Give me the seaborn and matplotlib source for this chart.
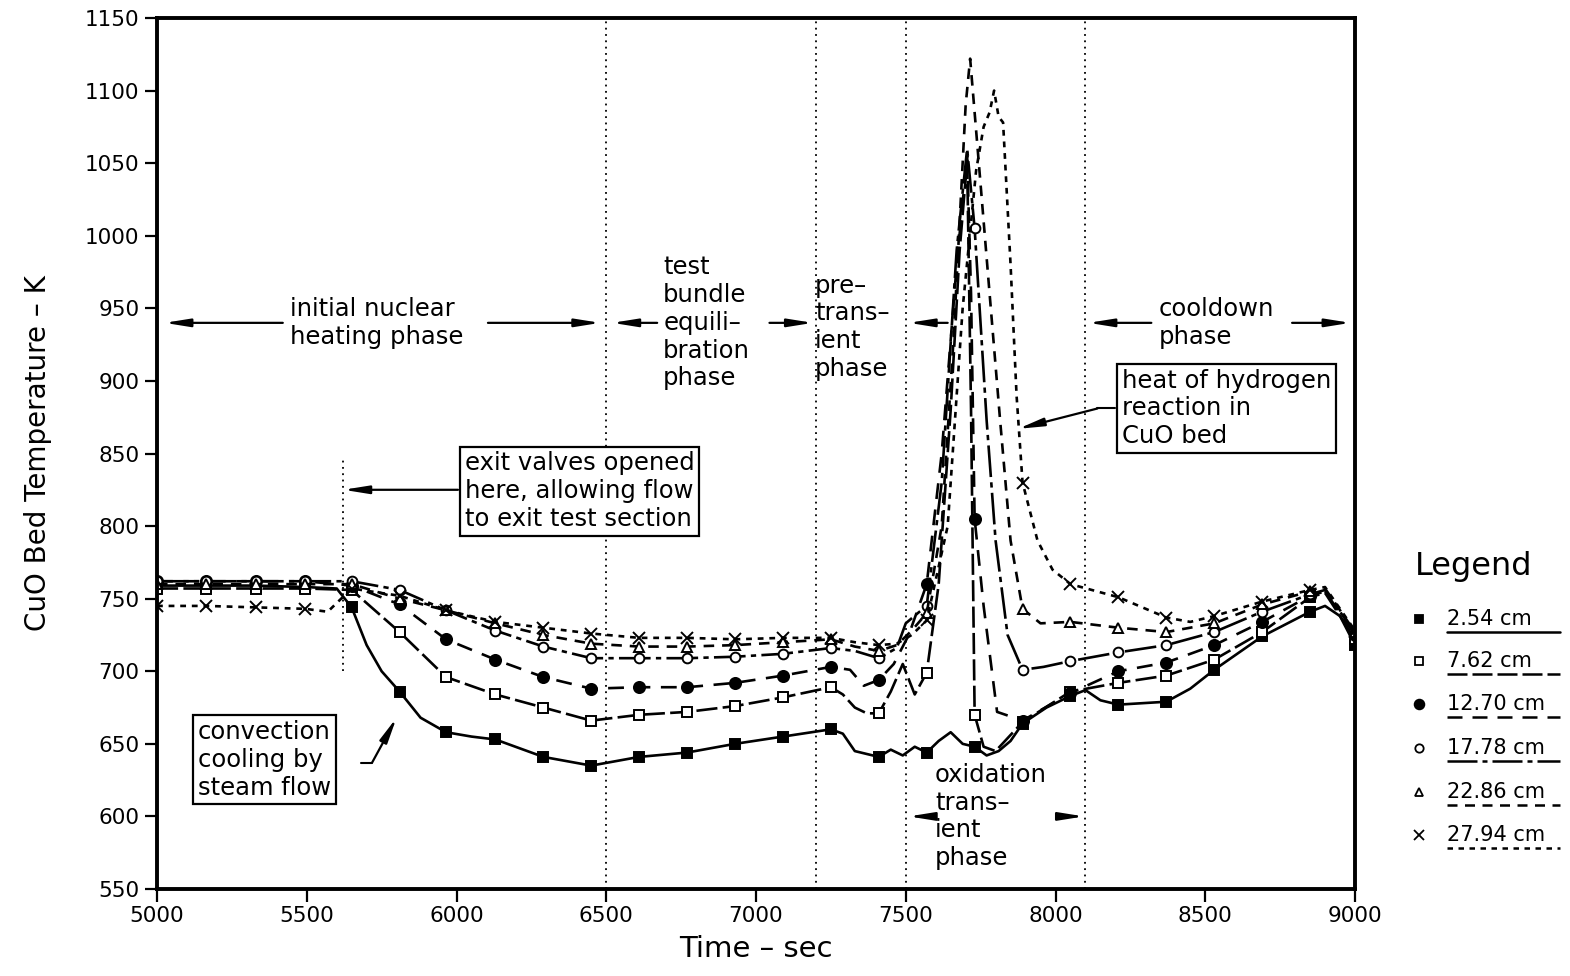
import numpy as np
import matplotlib
matplotlib.use("Agg")
import matplotlib.pyplot as plt
from matplotlib.lines import Line2D
import seaborn as sns

# ---------------- data ----------------
MARK_T = [5000, 5165, 5330, 5495, 5650, 5810, 5965, 6130, 6290, 6450, 6610, 6770,
          6930, 7090, 7250, 7410, 7570, 7730, 7890, 8050, 8210, 8370, 8530, 8690,
          8850, 9000]

t_254 = [5000, 5165, 5330, 5495, 5600, 5650, 5700, 5750, 5810, 5880, 5965, 6050, 6130,
         6210, 6290, 6450, 6610, 6770, 6930, 7090, 7250, 7290, 7330, 7370, 7410, 7450,
         7490, 7530, 7570, 7610, 7650, 7690, 7730, 7770, 7810, 7850, 7890, 7970, 8050,
         8100, 8150, 8210, 8370, 8450, 8530, 8690, 8850, 8900, 8950, 9000]
T_254 = [759, 759, 759, 758, 757, 744, 718, 700, 686, 668, 658, 655, 653,
         647, 641, 635, 641, 644, 650, 655, 660, 657, 645, 643, 641, 646,
         642, 648, 644, 652, 658, 650, 648, 642, 645, 652, 664, 675, 683,
         687, 680, 677, 679, 688, 701, 724, 741, 745, 738, 718]

t_762 = [5000, 5165, 5330, 5495, 5650, 5810, 5965, 6130, 6290, 6450, 6610, 6770, 6930,
         7090, 7250, 7290, 7330, 7370, 7410, 7450, 7490, 7530, 7570, 7610, 7650, 7680,
         7705, 7718, 7730, 7760, 7800, 7890, 8050, 8210, 8370, 8530, 8690, 8850, 8900,
         9000]
T_762 = [757, 757, 757, 757, 756, 727, 696, 684, 675, 666, 670, 672, 676,
         682, 689, 684, 675, 671, 671, 686, 705, 684, 699, 760, 880, 990,
         1052, 880, 670, 648, 645, 665, 686, 692, 697, 708, 727, 751, 754,
         722]

t_1270 = [5000, 5165, 5330, 5495, 5650, 5810, 5965, 6130, 6290, 6450, 6610, 6770, 6930,
          7090, 7250, 7314, 7360, 7410, 7460, 7510, 7570, 7620, 7670, 7705, 7718, 7730,
          7760, 7805, 7890, 8050, 8210, 8370, 8530, 8690, 8850, 8900, 9000]
T_1270 = [762, 762, 762, 762, 759, 746, 722, 708, 696, 688, 689, 689, 692,
          697, 703, 701, 690, 694, 705, 725, 760, 850, 980, 1055, 960, 805,
          745, 672, 666, 685, 700, 706, 718, 734, 752, 755, 725]

t_1778 = [5000, 5165, 5330, 5495, 5650, 5810, 5965, 6130, 6290, 6450, 6610, 6770, 6930,
          7090, 7250, 7330, 7410, 7470, 7500, 7540, 7570, 7620, 7670, 7705, 7730, 7770,
          7800, 7840, 7890, 7960, 8050, 8210, 8370, 8530, 8690, 8850, 8900, 9000]
T_1778 = [762, 762, 762, 762, 762, 756, 742, 728, 717, 709, 709, 709, 710,
          712, 716, 714, 709, 716, 733, 740, 745, 830, 990, 1060, 1005, 873,
          790, 725, 701, 703, 707, 713, 718, 727, 741, 753, 756, 726]

t_2286 = [5000, 5165, 5330, 5495, 5650, 5810, 5965, 6130, 6290, 6450, 6610, 6770, 6930,
          7090, 7250, 7330, 7410, 7470, 7520, 7570, 7620, 7660, 7700, 7715, 7740, 7780,
          7815, 7850, 7890, 7950, 8050, 8210, 8370, 8530, 8690, 8850, 8900, 9000]
T_2286 = [760, 760, 760, 760, 760, 750, 742, 733, 725, 719, 717, 717, 718,
          720, 722, 717, 714, 718, 728, 740, 800, 930, 1090, 1122, 1060, 960,
          873, 790, 743, 733, 734, 730, 727, 733, 746, 755, 757, 727]

t_2794 = [5000, 5165, 5330, 5495, 5570, 5650, 5810, 5965, 6130, 6290, 6450, 6610, 6770,
          6930, 7090, 7250, 7330, 7410, 7470, 7520, 7570, 7640, 7690, 7735, 7760, 7780,
          7795, 7810, 7825, 7850, 7870, 7890, 7940, 7990, 8050, 8210, 8370, 8450, 8530,
          8690, 8850, 8900, 9000]
T_2794 = [745, 745, 744, 743, 741, 757, 752, 742, 734, 730, 726, 723, 723,
          722, 723, 723, 720, 718, 719, 725, 735, 800, 950, 1045, 1075, 1085,
          1100, 1082, 1078, 980, 890, 830, 790, 770, 760, 751, 737, 734, 738,
          748, 756, 758, 728]

labels = ["2.54 cm", "7.62 cm", "12.70 cm", "17.78 cm", "22.86 cm", "27.94 cm"]
times = [t_254, t_762, t_1270, t_1778, t_2286, t_2794]
temps = [T_254, T_762, T_1270, T_1778, T_2286, T_2794]

x_ticks = [5000, 5500, 6000, 6500, 7000, 7500, 8000, 8500, 9000]
y_ticks = [550, 600, 650, 700, 750, 800, 850, 900, 950, 1000, 1050, 1100, 1150]

# ---------------- styles ----------------
markers = ["s", "s", "o", "o", "^", "x"]
mfcs = ["black", "white", "black", "white", "white", "black"]
msizes = [7, 7, 8, 7, 7, 8]
styles = ["-", (0, (8, 2)), (0, (6, 4)), (0, (12, 2, 2, 2)), (0, (4, 3)), (0, (2.2, 2.2))]

sns.set_theme(style="ticks")
plt.rcParams["font.family"] = ["DejaVu Sans"]
for k in ["text.color", "axes.labelcolor", "xtick.color", "ytick.color", "axes.edgecolor"]:
    plt.rcParams[k] = "black"

fig = plt.figure(figsize=(15.7, 9.76), dpi=100)
ax = fig.add_axes([157 / 1570, 1 - 889 / 976, (1355 - 157) / 1570, (889 - 18) / 976])

for t, T, lab, m, fc, ms, ls in zip(times, temps, labels, markers, mfcs, msizes, styles):
    idx = [i for i, v in enumerate(t) if v in MARK_T]
    sns.lineplot(x=t, y=T, ax=ax, color="black", linewidth=1.9, linestyle=ls,
                 marker=m, markevery=idx, markersize=ms, markerfacecolor=fc,
                 markeredgecolor="black", markeredgewidth=1.4,
                 sort=False, estimator=None, errorbar=None, legend=False)

ax.set_xlim(5000, 9000)
ax.set_ylim(550, 1150)
ax.set_xticks(x_ticks)
ax.set_yticks(y_ticks)
ax.tick_params(direction="out", length=9, width=1.6, labelsize=15.5, colors="black")
for sp in ax.spines.values():
    sp.set_linewidth(2.8)
    sp.set_color("black")
ax.set_xlabel("Time – sec", fontsize=21, labelpad=6)
ax.set_ylabel("CuO Bed Temperature – K", fontsize=20, labelpad=24)

# phase boundaries
dot = (0, (1, 2.5))
for xv in [6500, 7200, 7500, 8100]:
    ax.axvline(xv, color="black", lw=1.3, ls=dot)
ax.plot([5620, 5620], [700, 847], color="black", lw=1.3, ls=dot)

ARW = dict(arrowstyle="-|>,head_length=1.0,head_width=0.16", color="black", lw=1.6,
           shrinkA=0, shrinkB=0, mutation_scale=15)


def arrow(tail, head):
    ax.annotate("", xy=head, xytext=tail, arrowprops=ARW, annotation_clip=False)


FS = 17.5
LS = 1.2
# phase labels at 940 K
ax.text(5445, 940, "initial nuclear\nheating phase", fontsize=FS, ha="left", va="center",
        linespacing=LS)
arrow((5420, 940), (5025, 940))
arrow((6105, 940), (6480, 940))
ax.text(6690, 940, "test\nbundle\nequili–\nbration\nphase", fontsize=FS, ha="left",
        va="center", linespacing=LS)
arrow((6670, 940), (6520, 940))
arrow((7045, 940), (7190, 940))
ax.text(7197, 937, "pre–\ntrans–\nient\nphase", fontsize=FS, ha="left", va="center",
        linespacing=LS)
arrow((7640, 940), (7510, 940))
ax.text(8345, 940, "cooldown\nphase", fontsize=FS, ha="left", va="center",
        linespacing=LS)
arrow((8320, 940), (8110, 940))
arrow((8790, 940), (8985, 940))
ax.text(7598, 600, "oxidation\ntrans–\nient\nphase", fontsize=FS, ha="left", va="center",
        linespacing=LS)
arrow((7600, 600), (7510, 600))
arrow((8010, 600), (8095, 600))

# boxed notes
BOX = dict(boxstyle="square,pad=0.2", fc="white", ec="black", lw=1.6)
ax.text(6028, 824, "exit valves opened\nhere, allowing flow\nto exit test section",
        fontsize=FS, ha="left", va="center", linespacing=LS, bbox=BOX)
arrow((6005, 825), (5622, 825))

ax.text(5137, 639, "convection\ncooling by\nsteam flow", fontsize=FS, ha="left",
        va="center", linespacing=LS, bbox=BOX)
ax.plot([5680, 5718], [637, 637], color="black", lw=1.5)
arrow((5718, 637), (5800, 668))

ax.text(8222, 881, "heat of hydrogen\nreaction in\nCuO bed", fontsize=FS, ha="left",
        va="center", linespacing=LS, bbox=BOX, clip_on=False)
ax.plot([8200, 8140], [881, 881], color="black", lw=1.5)
arrow((8140, 881), (7875, 867))

# legend (drawn as in the reference: marker, then underlined label)
fig.text(1415 / 1570, 1 - 567 / 976, "Legend", fontsize=23, ha="left", va="center")
leg_py = [619, 661, 704, 748, 792, 835]
for lab, m, fc, ms, ls, py in zip(labels, markers, mfcs, msizes, styles, leg_py):
    yf = 1 - py / 976
    fig.add_artist(Line2D([1419 / 1570], [yf], marker=m, markersize=ms - 1,
                          markerfacecolor=fc, markeredgecolor="black",
                          markeredgewidth=1.3, linestyle="none"))
    fig.text(1447 / 1570, yf, lab, fontsize=15, ha="left", va="center")
    fig.add_artist(Line2D([1447 / 1570, 1560 / 1570], [yf - 13 / 976] * 2,
                          color="black", lw=1.8, linestyle=ls))

fig.savefig("out.png", dpi=100)
